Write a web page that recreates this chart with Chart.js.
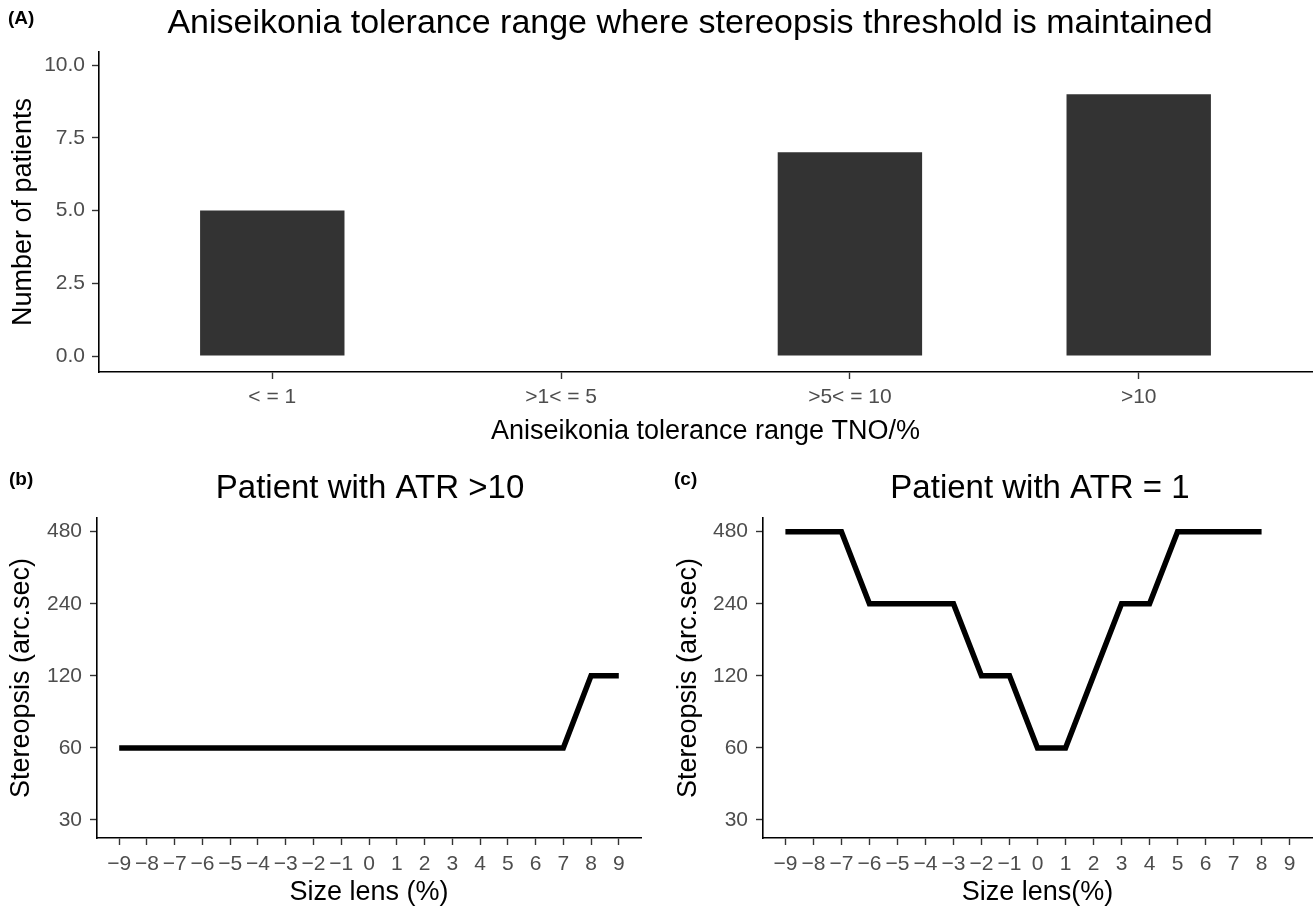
<!DOCTYPE html>
<html>
<head>
<meta charset="utf-8">
<title>Aniseikonia tolerance range and stereopsis</title>
<script src="https://cdn.jsdelivr.net/npm/chart.js@4.4.1/dist/chart.umd.min.js"></script>
<style>
  html, body { margin: 0; padding: 0; background: #ffffff; }
  #figure { position: relative; width: 1314px; height: 912px; overflow: hidden; }
  #figure canvas { position: absolute; }
</style>
</head>
<body>
<div id="figure">
  <canvas id="panelA" width="1314" height="460" style="left:0;top:0"></canvas>
  <canvas id="panelB" width="657" height="452" style="left:0;top:460px"></canvas>
  <canvas id="panelC" width="657" height="452" style="left:657px;top:460px"></canvas>
</div>
<script>
// ---- Panel A: patients per aniseikonia tolerance range ----
const toleranceRanges = ['< = 1', '>1< = 5', '>5< = 10', '>10'];
const patientCounts = [5, 0, 7, 9];
const countTicks = [0, 2.5, 5, 7.5, 10];

// ---- Panel b: patient with ATR > 10 ----
const lensSizesB = [-9, -8, -7, -6, -5, -4, -3, -2, -1, 0, 1, 2, 3, 4, 5, 6, 7, 8, 9];
const stereopsisB = [60, 60, 60, 60, 60, 60, 60, 60, 60, 60, 60, 60, 60, 60, 60, 60, 60, 120, 120];

// ---- Panel c: patient with ATR = 1 ----
const lensSizesC = [-9, -8, -7, -6, -5, -4, -3, -2, -1, 0, 1, 2, 3, 4, 5, 6, 7, 8];
const stereopsisC = [480, 480, 480, 240, 240, 240, 240, 120, 120, 60, 60, 120, 240, 240, 480, 480, 480, 480];

// Shared axis ticks for the lens panels
const lensTicks = [-9, -8, -7, -6, -5, -4, -3, -2, -1, 0, 1, 2, 3, 4, 5, 6, 7, 8, 9];
const stereoTicks = [30, 60, 120, 240, 480];

const FONT = "'Liberation Sans', Arial, Helvetica, sans-serif";
const TICK_FONT = { family: FONT, size: 21 };
const AXIS_TITLE_FONT = { family: FONT, size: 27, lineHeight: 1 };

Chart.defaults.font.family = FONT;

// Panel tag and heading drawn on top of each chart
const headingPlugin = {
  id: 'heading',
  afterDraw(chart, args, opts) {
    const ctx = chart.ctx;
    ctx.save();
    ctx.fillStyle = '#000000';
    ctx.textBaseline = 'alphabetic';
    ctx.textAlign = 'left';
    ctx.font = 'bold 19px ' + FONT;
    ctx.fillText(opts.tag, opts.tagX, opts.tagY);
    ctx.textAlign = 'center';
    ctx.font = opts.size + 'px ' + FONT;
    ctx.fillText(opts.title, opts.titleX, opts.titleY);
    ctx.restore();
  }
};

function axisLines() {
  return {
    border: { display: true, color: '#000000', width: 1.6 },
    grid: {
      display: true,
      offset: false,
      drawOnChartArea: false,
      drawTicks: true,
      tickLength: 7,
      tickColor: '#333333',
      tickWidth: 1.4
    }
  };
}

function minusLabel(v) {
  return v < 0 ? '\u2212' + Math.abs(v) : String(v);
}

const commonOptions = {
  responsive: false,
  animation: false,
  events: [],
};

// ---------- Panel A ----------
new Chart(document.getElementById('panelA'), {
  type: 'bar',
  data: {
    datasets: [{
      data: toleranceRanges.map((r, i) => ({ x: i + 1, y: patientCounts[i] })),
      backgroundColor: '#333333',
      borderWidth: 0,
      categoryPercentage: 1.0,
      barPercentage: 0.5
    }]
  },
  options: {
    ...commonOptions,
    layout: { padding: { left: 0, top: 52, right: 2, bottom: 0 } },
    plugins: {
      legend: { display: false },
      tooltip: { enabled: false },
      heading: {
        tag: '(A)', tagX: 8, tagY: 24,
        title: 'Aniseikonia tolerance range where stereopsis threshold is maintained',
        titleX: 690, titleY: 33, size: 34
      }
    },
    scales: {
      x: {
        type: 'linear',
        offset: false,
        min: 0.4, max: 4.6,
        afterBuildTicks: s => { s.ticks = toleranceRanges.map((r, i) => ({ value: i + 1 })); },
        afterFit: s => { s.height = 88; },
        ticks: {
          color: '#4d4d4d', font: TICK_FONT, padding: 6,
          autoSkip: false, maxRotation: 0, minRotation: 0,
          callback: v => toleranceRanges[Math.round(v) - 1]
        },
        title: {
          display: true, text: 'Aniseikonia tolerance range TNO/%',
          color: '#000000', font: AXIS_TITLE_FONT, padding: { top: 0, bottom: 15 }
        },
        ...axisLines()
      },
      y: {
        type: 'linear',
        min: -0.55, max: 10.45,
        afterBuildTicks: s => { s.ticks = countTicks.map(v => ({ value: v })); },
        afterFit: s => { s.width = 99; },
        ticks: {
          color: '#4d4d4d', font: TICK_FONT, padding: 7,
          callback: v => Number(v).toFixed(1)
        },
        title: {
          display: true, text: 'Number of patients',
          color: '#000000', font: AXIS_TITLE_FONT, padding: { top: 10, bottom: 0 }
        },
        ...axisLines()
      }
    }
  },
  plugins: [headingPlugin]
});

// ---------- Panels b and c ----------
function lensChart(canvasId, xs, ys, cfg) {
  return new Chart(document.getElementById(canvasId), {
    type: 'line',
    data: {
      datasets: [{
        data: xs.map((x, i) => ({ x: x, y: ys[i] })),
        borderColor: '#000000',
        borderWidth: 5.5,
        pointRadius: 0,
        tension: 0,
        fill: false,
        borderCapStyle: 'butt',
        borderJoinStyle: 'miter'
      }]
    },
    options: {
      ...commonOptions,
      layout: { padding: { left: 0, top: 58, right: cfg.padRight, bottom: 0 } },
      plugins: {
        legend: { display: false },
        tooltip: { enabled: false },
        heading: {
          tag: cfg.tag, tagX: cfg.tagX, tagY: 25,
          title: cfg.title, titleX: cfg.titleX, titleY: 38, size: 33
        }
      },
      scales: {
        x: {
          type: 'linear',
          min: -9.8, max: 9.8,
          afterBuildTicks: s => { s.ticks = lensTicks.map(v => ({ value: v })); },
          afterFit: s => { s.height = 74; },
          ticks: {
            color: '#4d4d4d', font: TICK_FONT, padding: 7,
            autoSkip: false, maxRotation: 0, minRotation: 0,
            callback: v => minusLabel(v)
          },
          title: {
            display: true, text: cfg.xTitle,
            color: '#000000', font: AXIS_TITLE_FONT, padding: { top: 0, bottom: 6 }
          },
          ...axisLines()
        },
        y: {
          type: 'logarithmic',
          min: 30 / Math.pow(2, 0.25),
          max: 480 * Math.pow(2, 0.19),
          afterBuildTicks: s => { s.ticks = stereoTicks.map(v => ({ value: v })); },
          afterFit: s => { s.width = cfg.yWidth; },
          ticks: {
            color: '#4d4d4d', font: TICK_FONT, padding: 8,
            callback: v => String(v)
          },
          title: {
            display: true, text: 'Stereopsis (arc.sec)',
            color: '#000000', font: AXIS_TITLE_FONT, padding: { top: cfg.yTitlePad, bottom: 0 }
          },
          ...axisLines()
        }
      }
    },
    plugins: [headingPlugin]
  });
}

lensChart('panelB', lensSizesB, stereopsisB, {
  tag: '(b)', tagX: 9, title: 'Patient with ATR >10', titleX: 370,
  xTitle: 'Size lens (%)', yWidth: 97, yTitlePad: 8, padRight: 16
});

lensChart('panelC', lensSizesC, stereopsisC, {
  tag: '(c)', tagX: 17, title: 'Patient with ATR = 1', titleX: 383,
  xTitle: 'Size lens(%)', yWidth: 106, yTitlePad: 18, padRight: 2
});
</script>
</body>
</html>
